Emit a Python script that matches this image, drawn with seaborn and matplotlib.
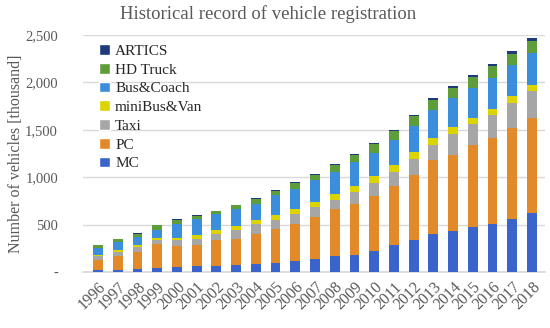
import numpy as np
import pandas as pd
import matplotlib
matplotlib.use("Agg")
import matplotlib.pyplot as plt
import seaborn as sns
from matplotlib.patches import Patch
from matplotlib.ticker import FuncFormatter

years = [str(y) for y in range(1996, 2019)]
MC      = [25, 25, 32, 46, 53, 60, 60, 70, 81, 98, 113, 141, 165, 176, 220, 288, 341, 401, 436, 471, 506, 563, 622]
PC      = [98, 141, 179, 253, 218, 221, 281, 281, 323, 359, 397, 439, 503, 545, 580, 615, 679, 784, 802, 872, 907, 956, 1002]
Taxi    = [42, 46, 53, 42, 70, 70, 63, 95, 98, 95, 105, 105, 95, 123, 140, 148, 172, 158, 221, 218, 246, 264, 281]
miniBus = [10, 18, 18, 21, 21, 35, 35, 35, 42, 53, 53, 53, 63, 60, 70, 81, 74, 70, 70, 63, 63, 70, 70]
Bus     = [81, 88, 88, 77, 148, 176, 176, 186, 176, 204, 211, 229, 229, 257, 250, 264, 271, 299, 306, 316, 323, 334, 334]
HD      = [25, 25, 35, 53, 35, 28, 28, 35, 53, 46, 60, 60, 70, 70, 85, 88, 105, 105, 105, 112, 123, 116, 123]
ARTICS  = [3, 5, 6, 4, 10, 10, 5, 10, 7, 7, 10, 11, 18, 18, 18, 18, 18, 18, 25, 25, 25, 25, 35]

series_names = ["MC", "PC", "Taxi", "miniBus&Van", "Bus&Coach", "HD Truck", "ARTICS"]
series_vals = [MC, PC, Taxi, miniBus, Bus, HD, ARTICS]
colors = ["#3A64CC", "#E2892A", "#A6A6A6", "#DCD400", "#3A8EDB", "#5E9E3A", "#1F3A7A"]

sns.set_theme(style="white")
plt.rcParams["font.family"] = ["Liberation Serif", "DejaVu Serif"]

fig = plt.figure(figsize=(5.5, 3.28), dpi=100)
ax = fig.add_axes([83/550, 56/328, (545-83)/550, (272-35)/328])

cum = np.zeros(len(years))
cums = []
for v in series_vals:
    cum = cum + np.array(v)
    cums.append(cum.copy())

for name, c, col in reversed(list(zip(series_names, cums, colors))):
    df = pd.DataFrame({"year": years, "value": c})
    sns.barplot(data=df, x="year", y="value", color=col, width=0.5,
                saturation=1, ax=ax, linewidth=0, zorder=3)

ax.set_ylim(0, 2500)
ax.set_xlim(-0.76, 22.66)
ax.set_yticks(range(0, 2501, 500))
ax.yaxis.set_major_formatter(FuncFormatter(lambda v, p: "-" if v == 0 else f"{int(v):,}"))
ax.grid(axis="y", color="#D9D9D9", linewidth=1, zorder=0)
ax.grid(axis="x", visible=False)
for s in ["top", "right", "left"]:
    ax.spines[s].set_visible(False)
ax.spines["bottom"].set_color("#D9D9D9")
ax.tick_params(axis="both", length=0, colors="#595959", labelsize=10.5)
ax.tick_params(axis="x", labelsize=11.5, pad=5)
ax.tick_params(axis="y", pad=18)
plt.setp(ax.get_xticklabels(), rotation=45, ha="right", rotation_mode="anchor")
ax.set_xlabel("")
ax.set_ylabel("Number of vehicles [thousand]", fontsize=11.5, color="#595959", labelpad=1)
fig.suptitle("Historical record of vehicle registration", fontsize=13.5, color="#595959",
             x=0.487, y=0.985)

handles = [Patch(facecolor=col, label=n) for n, col in zip(series_names, colors)]
leg = ax.legend(handles=list(reversed(handles)), loc="upper left", bbox_to_anchor=(0.015, 1.0),
                frameon=False, fontsize=11, handlelength=0.7, handleheight=0.7,
                handletextpad=0.35, labelspacing=0.33, borderaxespad=0.2)
for t in leg.get_texts():
    t.set_color("#262626")

fig.savefig("out.png", dpi=100)
